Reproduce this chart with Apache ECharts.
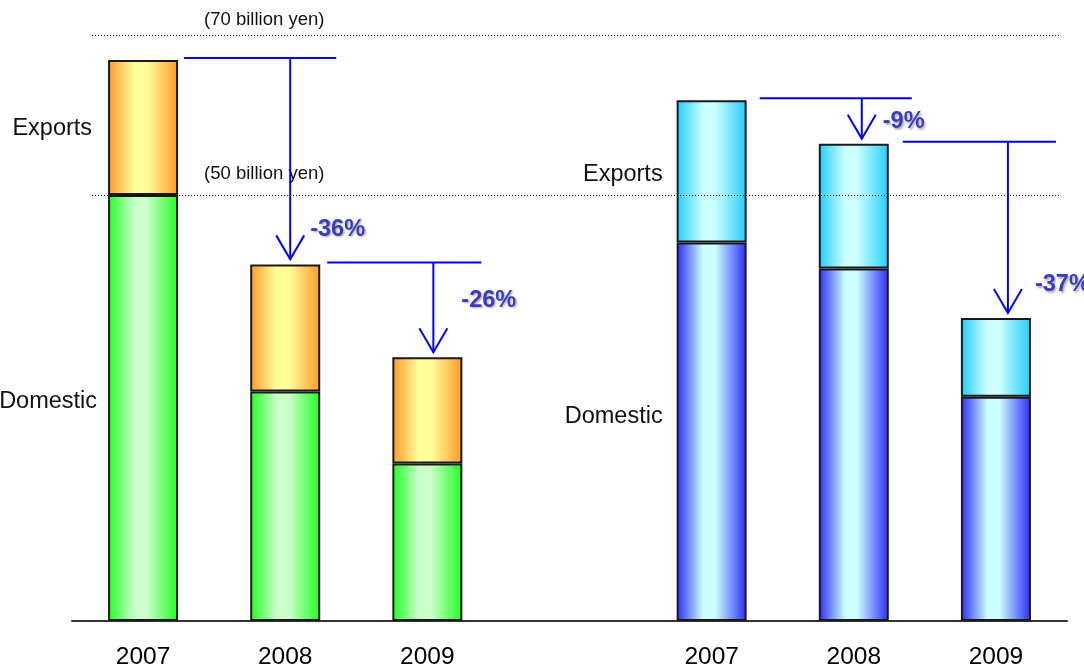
<!DOCTYPE html>
<html>
<head>
<meta charset="utf-8">
<script src="https://cdn.jsdelivr.net/npm/echarts@6/dist/echarts.min.js"></script>
<style>
html,body{margin:0;padding:0;background:#fff;}
#chart{width:1084px;height:670px;}
</style>
</head>
<body>
<div id="chart"></div>
<script>
// ---- data (billion yen) ----
const categories = ['2007', '2008', '2009', '', '2007', '2008', '2009'];
const domesticValues = [50.9, 27.4, 18.8, null, 45.2, 42.1, 26.8];
const exportValues = [16.1, 15.2, 12.7, null, 17.0, 14.9, 9.4];
const changePairs = [[0, 1], [1, 2], [4, 5], [5, 6]];
const changeLabels = ['-36%', '-26%', '-9%', '-37%'];
const refValues = [70, 50.9];
const refLabels = ['(70 billion yen)', '(50 billion yen)'];
const seriesNames = ['Domestic', 'Exports'];

// ---- styling / layout ----
const FONT = 'Liberation Sans, Arial, sans-serif';
const BAR_W = 70;
function grad(edge, mid) {
  return new echarts.graphic.LinearGradient(0, 0, 1, 0, [
    { offset: 0, color: edge },
    { offset: 0.38, color: mid },
    { offset: 0.55, color: mid },
    { offset: 1, color: edge }
  ]);
}
const palette = {
  left: { dom: ['#22ff22', '#ccffcc'], exp: ['#ff9a2a', '#ffff99'] },
  right: { dom: ['#2a2aff', '#ccffff'], exp: ['#22ccff', '#ccffff'] }
};
function items(values, kind) {
  return values.map((v, i) => {
    if (v == null) return null;
    const p = i < 3 ? palette.left : palette.right;
    return { value: v, itemStyle: { color: grad(p[kind][0], p[kind][1]) } };
  });
}
const arrowLayout = [
  { start: 6, end: 51, stem: 5, lx: 20, ly: -30 },
  { start: 7, end: 54, stem: 6, lx: 28, ly: -52 },
  { start: 13, end: 58, stem: 8, lx: 21, ly: -17 },
  { start: 14, end: 60, stem: 12, lx: 27, ly: -28 }
];
const sideLabelDy = { left: [-6, 1], right: [-15, 3] };

const chart = echarts.init(document.getElementById('chart'), null, { renderer: 'canvas' });
const option = {
  animation: false,
  backgroundColor: '#fff',
  grid: { left: 72, right: 17, top: 35, bottom: 48 },
  xAxis: {
    type: 'category',
    data: categories,
    axisLine: { lineStyle: { color: '#333', width: 2 } },
    axisTick: { show: false },
    axisLabel: { fontSize: 24.5, color: '#000', fontFamily: FONT, margin: 24 }
  },
  yAxis: { type: 'value', min: 0, max: 70, show: false, splitLine: { show: false } },
  series: [
    {
      name: seriesNames[0], type: 'bar', stack: 'total', barWidth: BAR_W,
      data: items(domesticValues, 'dom'),
      itemStyle: { borderColor: '#1a1a1a', borderWidth: 2 }
    },
    {
      name: seriesNames[1], type: 'bar', stack: 'total', barWidth: BAR_W,
      data: items(exportValues, 'exp'),
      itemStyle: { borderColor: '#1a1a1a', borderWidth: 2 }
    }
  ]
};
chart.setOption(option);

function px(i, v) { return chart.convertToPixel({ gridIndex: 0 }, [i, v]); }
const total = i => domesticValues[i] + exportValues[i];
const g = [];
const BLUE = '#0000ff';

const x0 = px(0, 0)[0] - 51, x1 = px(6, 0)[0] + 64;
refValues.forEach((v, k) => {
  const y = Math.round(px(0, v)[1]) + 0.5;
  g.push({ type: 'line', shape: { x1: x0, y1: y, x2: x1, y2: y },
    style: { stroke: '#000', lineWidth: 1, lineDash: [1, 2] }, z: 10 });
  g.push({ type: 'text', x: px(0, 0)[0] + 61, y: y - (k === 0 ? 16 : 22),
    style: { text: refLabels[k], font: '18.5px ' + FONT, fill: '#111', textVerticalAlign: 'middle' }, z: 10 });
});

changePairs.forEach(([a, b], k) => {
  const L = arrowLayout[k];
  const pa = px(a, total(a)), pb = px(b, total(b));
  const hy = pa[1] - 2;
  const hx1 = pa[0] + BAR_W / 2 + L.start, hx2 = pb[0] + L.end;
  const vx = pb[0] + L.stem;
  const tip = pb[1] - 5;
  g.push({ type: 'line', shape: { x1: hx1, y1: hy, x2: hx2, y2: hy }, style: { stroke: BLUE, lineWidth: 2 }, z: 20 });
  g.push({ type: 'line', shape: { x1: vx, y1: hy, x2: vx, y2: tip }, style: { stroke: BLUE, lineWidth: 2 }, z: 20 });
  g.push({ type: 'polyline', shape: { points: [[vx - 14, tip - 24], [vx, tip], [vx + 14, tip - 24]] },
    style: { stroke: BLUE, lineWidth: 2, fill: null }, z: 20 });
  g.push({ type: 'text', x: vx + L.lx, y: tip + L.ly,
    style: { text: changeLabels[k], font: 'bold 23.5px ' + FONT, fill: '#3a3ac4',
      textVerticalAlign: 'middle', textShadowColor: 'rgba(0,0,0,0.3)', textShadowBlur: 2,
      textShadowOffsetX: 1.5, textShadowOffsetY: 1.5 }, z: 20 });
});

[[0, 'left'], [4, 'right']].forEach(([i, side]) => {
  const bx = px(i, 0)[0] - BAR_W / 2 - 14;
  const yBase = px(i, 0)[1], yDom = px(i, domesticValues[i])[1], yTot = px(i, total(i))[1];
  g.push({ type: 'text', x: bx + (side === 'left' ? 3 : 0), y: (yBase + yDom) / 2 + sideLabelDy[side][0],
    style: { text: seriesNames[0], font: '23.5px ' + FONT, fill: '#111', textAlign: 'right', textVerticalAlign: 'middle' }, z: 10 });
  g.push({ type: 'text', x: bx + (side === 'left' ? -2 : 0), y: (yDom + yTot) / 2 + sideLabelDy[side][1],
    style: { text: seriesNames[1], font: '23.5px ' + FONT, fill: '#111', textAlign: 'right', textVerticalAlign: 'middle' }, z: 10 });
});

chart.setOption({ graphic: { elements: g } });
</script>
</body>
</html>
